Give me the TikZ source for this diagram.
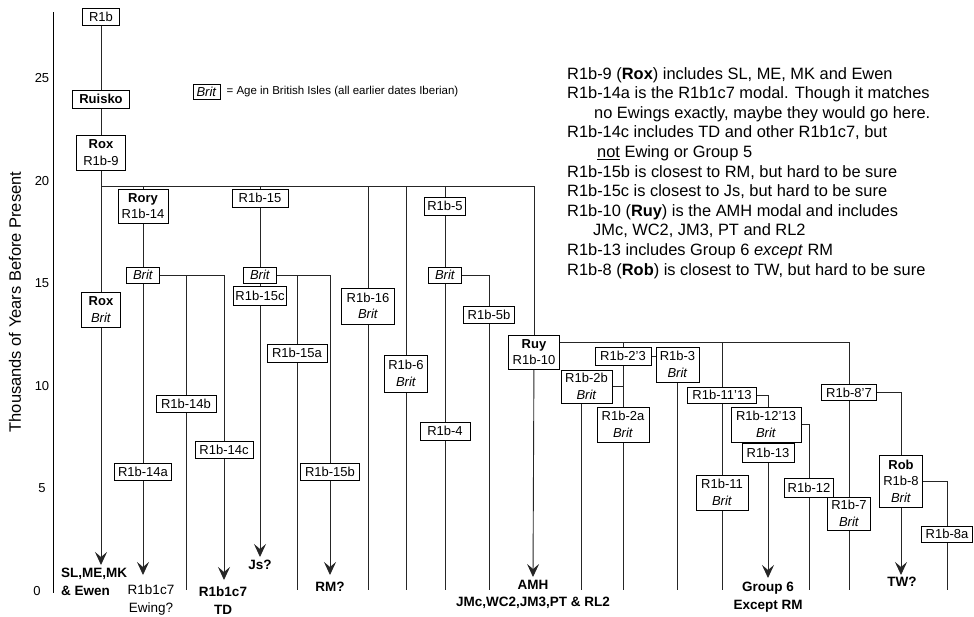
\documentclass[tikz,border=0pt]{standalone}
\usepackage{fontspec}
\setmainfont{Liberation Sans}
\usetikzlibrary{arrows.meta, positioning, backgrounds}

\newcommand{\boxfont}{\fontsize{13}{16.5}\selectfont}
\newcommand{\leaffont}{\fontsize{13.5}{17.5}\selectfont\bfseries}
\newcommand{\brit}{\textit{Brit}}

\begin{document}
\begin{tikzpicture}[
    x=1pt, y=-1pt,
    box/.style={rectangle, draw, fill=white, line width=0.8pt, inner sep=0pt, align=center, font=\boxfont},
    tree/.style={line width=0.9pt, draw=black!85},
    arrow/.style={tree, -{Stealth[length=13pt, width=12pt, inset=5pt]}},
    leaf/.style={inner sep=0pt, align=center, font=\leaffont},
    tick/.style={inner sep=0pt, font=\fontsize{13}{15}\selectfont},
    notes/.style={inner sep=0pt, align=left, font=\fontsize{16.4}{19.6}\selectfont}
]
\useasboundingbox (0,0) rectangle (974,616);

% ============= AXIS =============
\draw[line width=0.9pt] (53,12) coordinate (axtop) -- (53,593) coordinate (axbot);
\node[rotate=90, font=\fontsize{16.5}{18}\selectfont] (axtitle) at (15,302) {Thousands of Years Before Present};
\foreach \t in {5,10,15,20,25} {
    \node[tick] (tick\t) at (42,591-20.5*\t) {\t};
}
\node[tick] (tick0) at (37,591) {0};

% ============= LEGEND =============
\node[box, minimum width=27, minimum height=15] (legbrit) at (206.5,91.5) {\brit};
\node[inner sep=0pt, font=\fontsize{11.5}{13}\selectfont, right=6pt of legbrit] (legtext) {= Age in British Isles (all earlier dates Iberian)};

% ============= NOTES =============
\node[notes, anchor=north west] (notes) at (567,67) {R1b-9 (\textbf{Rox}) includes SL, ME, MK and Ewen\\
R1b-14a is the R1b1c7 modal. Though it matches\\
\hspace*{27pt}no Ewings exactly, maybe they would go here.\\
R1b-14c includes TD and other R1b1c7, but\\
\hspace*{30pt}\underline{not} Ewing or Group 5\\
R1b-15b is closest to RM, but hard to be sure\\
R1b-15c is closest to Js, but hard to be sure\\
R1b-10 (\textbf{Ruy}) is the AMH modal and includes\\
\hspace*{26pt}JMc, WC2, JM3, PT and RL2\\
R1b-13 includes Group 6 \textit{except} RM\\
R1b-8 (\textbf{Rob}) is closest to TW, but hard to be sure};

% ============= TREE NODES =============
\node[box, minimum width=37, minimum height=17] (r1b) at (101,17) {R1b};
\node[box, minimum width=57, minimum height=18] (ruisko) at (101,99) {\textbf{Ruisko}};
\node[box, minimum width=49, minimum height=35] (rox9) at (101,152.5) {\textbf{Rox}\\R1b-9};
\node[box, minimum width=39, minimum height=35] (roxbrit) at (101,309.5) {\textbf{Rox}\\\brit};

% Rory branch
\node[box, minimum width=50, minimum height=34] (rory) at (143,206) {\textbf{Rory}\\R1b-14};
\node[box, minimum width=33, minimum height=16] (brit14) at (143,275) {\brit};
\node[box, minimum width=57, minimum height=17] (r14a) at (143,472) {R1b-14a};
\node[box, minimum width=60, minimum height=17] (r14b) at (186,403.5) {R1b-14b};
\node[box, minimum width=58, minimum height=17] (r14c) at (224,450) {R1b-14c};

% R1b-15 branch
\node[box, minimum width=56, minimum height=18] (r15) at (260,198) {R1b-15};
\node[box, minimum width=33, minimum height=16] (brit15) at (260,275) {\brit};
\node[box, minimum width=53, minimum height=19] (r15c) at (260,295.5) {R1b-15c};
\node[box, minimum width=60, minimum height=18] (r15a) at (297,353) {R1b-15a};
\node[box, minimum width=59, minimum height=17] (r15b) at (330,471.5) {R1b-15b};

% middle branches
\node[box, minimum width=53, minimum height=36] (r16) at (368,306) {R1b-16\\\brit};
\node[box, minimum width=43, minimum height=37] (r6) at (406,373.5) {R1b-6\\\brit};
\node[box, minimum width=41, minimum height=18] (r5) at (445,206) {R1b-5};
\node[box, minimum width=33, minimum height=16] (brit5) at (445,275) {\brit};
\node[box, minimum width=50, minimum height=18] (r4) at (445,431) {R1b-4};
\node[box, minimum width=51, minimum height=17] (r5b) at (489,314.5) {R1b-5b};

% Ruy branch
\node[box, minimum width=51, minimum height=34] (ruy) at (534,352) {\textbf{Ruy}\\R1b-10};
\node[box, minimum width=56, minimum height=18] (r23) at (623,356) {R1b-2'3};
\node[box, minimum width=51, minimum height=33] (r2b) at (586.5,386.5) {R1b-2b\\\brit};
\node[box, minimum width=52, minimum height=35] (r2a) at (623,424.5) {R1b-2a\\\brit};
\node[box, minimum width=43, minimum height=35] (r3) at (677.5,364.5) {R1b-3\\\brit};
\node[box, minimum width=69, minimum height=16] (r1113) at (722,395) {R1b-11'13};
\node[box, minimum width=52, minimum height=35] (r11) at (722,492.5) {R1b-11\\\brit};
\node[box, minimum width=70, minimum height=35] (r1213) at (766,424.5) {R1b-12'13\\\brit};
\node[box, minimum width=52, minimum height=19] (r13) at (768,452.5) {R1b-13};
\node[box, minimum width=49, minimum height=19] (r12) at (809,487.5) {R1b-12};
\node[box, minimum width=55, minimum height=16] (r87) at (849,392.5) {R1b-8'7};
\node[box, minimum width=43, minimum height=33] (r7) at (849,513.5) {R1b-7\\\brit};
\node[box, minimum width=43, minimum height=52] (rob) at (901,481) {\textbf{Rob}\\R1b-8\\\brit};
\node[box, minimum width=51, minimum height=16] (r8a) at (947,534) {R1b-8a};

% ============= LEAVES =============
\node[leaf, align=left, anchor=north west] (slme) at (61,568) {SL,ME,MK\\\& Ewen};
\node[leaf, anchor=north, font=\fontsize{13.5}{17.5}\selectfont] (ewing) at (151,585) {R1b1c7\\Ewing?};
\node[leaf, anchor=north] (td) at (223,587) {R1b1c7\\TD};
\node[leaf, anchor=north] (js) at (260,560) {Js?};
\node[leaf, anchor=north] (rm) at (330,582) {RM?};
\node[leaf, anchor=north] (amh) at (533,580) {AMH\\JMc,WC2,JM3,PT \& RL2};
\node[leaf, anchor=north] (grp6) at (768,582) {Group 6\\Except RM};
\node[leaf, anchor=north] (tw) at (902,577) {TW?};

% arrow tips and line feet
\coordinate (tipA) at (101,565);
\coordinate (tipB) at (143,575);
\coordinate (tipD) at (224,580);
\coordinate (tipE) at (260,557);
\coordinate (tipG) at (330,575);
\coordinate (tipL) at (533,577);
\coordinate (tipN) at (768,578);
\coordinate (tipO) at (901,575);
\coordinate (base) at (0,590);
\coordinate (barY) at (0,186);
\coordinate (rbarY) at (0,342);
\coordinate (r2bfoot) at (581,590);

% ============= CONNECTORS =============
\begin{scope}[on background layer]
\draw[tree] (r1b) -- (ruisko) -- (rox9) -- (roxbrit);
\draw[arrow] (roxbrit) -- (tipA);
\draw[tree] (rox9 |- barY) -- (ruy |- barY);
% Rory
\draw[tree] (rory |- barY) -- (rory) -- (brit14) -- (r14a);
\draw[arrow] (r14a) -- (tipB);
\draw[tree] (brit14) -| (r14c);
\draw[arrow] (r14c) -- (tipD);
\draw[tree] (brit14 -| r14b) -- (r14b) -- (r14b |- base);
% R1b-15
\draw[tree] (r15 |- barY) -- (r15) -- (brit15) -- (r15c);
\draw[arrow] (r15c) -- (tipE);
\draw[tree] (brit15) -| (r15b);
\draw[arrow] (r15b) -- (tipG);
\draw[tree] (brit15 -| r15a) -- (r15a) -- (r15a |- base);
% middle
\draw[tree] (r16 |- barY) -- (r16) -- (r16 |- base);
\draw[tree] (r6 |- barY) -- (r6) -- (r6 |- base);
\draw[tree] (r5 |- barY) -- (r5) -- (brit5) -- (r4) -- (r4 |- base);
\draw[tree] (brit5) -| (r5b) -- (r5b |- base);
% Ruy
\draw[tree] (ruy |- barY) -- (ruy);
\draw[arrow] (ruy) -- (tipL);
\draw[tree] (ruy |- rbarY) -- (r87 |- rbarY);
\draw[tree] (r23 |- rbarY) -- (r23) -- (r2a) -- (r2a |- base);
\draw[tree] (r2b.east) -- (r2b.east -| r23);
\draw[tree] (r2b.south -| r2bfoot) -- (r2bfoot);
\draw[tree] (r23.east) -- (r23.east -| r3.west);
\draw[tree] (r3) -- (r3 |- base);
\draw[tree] (r1113 |- rbarY) -- (r1113) -- (r11) -- (r11 |- base);
\draw[tree] (r1113) -| (r13);
\draw[arrow] (r13) -- (tipN);
\draw[tree] (r1213) -| (r12) -- (r12 |- base);
\draw[tree] (r87 |- rbarY) -- (r87) -- (r7) -- (r7 |- base);
\draw[tree] (r87) -| (rob);
\draw[arrow] (rob) -- (tipO);
\draw[tree] (rob) -| (r8a) -- (r8a |- base);
\end{scope}

\end{tikzpicture}
\end{document}
